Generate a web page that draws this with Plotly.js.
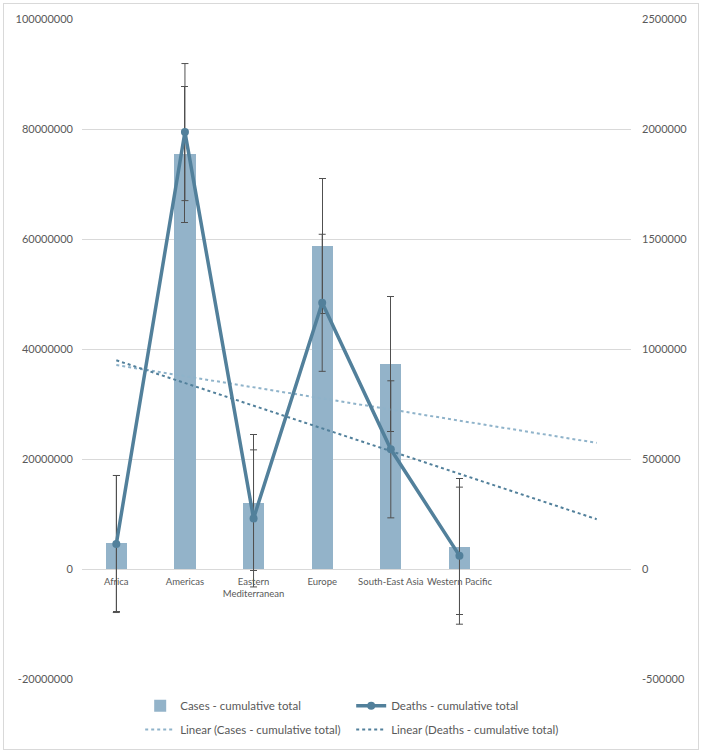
<!DOCTYPE html>
<html><head><meta charset="utf-8">
<script src="https://cdn.plot.ly/plotly-3.0.1.min.js"></script>
<style>
html,body{margin:0;padding:0;background:#fff}
#chart{position:absolute;left:0;top:0;width:701px;height:753px}
#frame{position:absolute;left:3px;top:3px;width:696px;height:747px;border:1px solid #d9d9d9;box-sizing:border-box;pointer-events:none}
</style>
</head><body><div id="chart"></div><div id="frame"></div>
<script>
// ---- data ----
const regions = ['Africa', 'Americas', 'Eastern<br>Mediterranean', 'Europe', 'South-East Asia', 'Western Pacific'];
const casesTotal = [4670000, 75400000, 12050000, 58700000, 37300000, 4050000];
const deathsTotal = [113600, 1986000, 230000, 1210000, 544000, 60600];
const leftTicks = [-20000000, 0, 20000000, 40000000, 60000000, 80000000, 100000000];
const rightTicks = [-500000, 0, 500000, 1000000, 1500000, 2000000, 2500000];
const forecastForward = 2;

// ---- helpers (Excel-style standard error & linear trendline) ----
const xIdx = regions.map((_, i) => i + 1);
function stdErr(v) {
  const n = v.length, m = v.reduce((a, b) => a + b, 0) / n;
  const sd = Math.sqrt(v.reduce((a, b) => a + (b - m) * (b - m), 0) / (n - 1));
  return sd / Math.sqrt(n);
}
function trend(v) {
  const n = v.length;
  const mx = xIdx.reduce((a, b) => a + b, 0) / n, my = v.reduce((a, b) => a + b, 0) / n;
  let sxy = 0, sxx = 0;
  for (let i = 0; i < n; i++) { sxy += (xIdx[i] - mx) * (v[i] - my); sxx += (xIdx[i] - mx) ** 2; }
  const b = sxy / sxx, a = my - b * mx;
  const xs = [1, n + forecastForward];
  return { x: xs, y: xs.map(x => a + b * x) };
}
const tC = trend(casesTotal), tD = trend(deathsTotal);

const barCol = '#93b3c9', lineCol = '#52809b', errCol = '#505050';
const font = { family: 'Lato, "Open Sans", sans-serif', color: '#595959' };

const traces = [
  { type: 'bar', name: 'Cases - cumulative total', x: xIdx, y: casesTotal, width: 0.31,
    marker: { color: barCol }, yaxis: 'y', hoverinfo: 'skip', legend: 'legend',
    error_y: { type: 'constant', value: stdErr(casesTotal), color: errCol, thickness: 1, width: 3.5 } },
  { type: 'scatter', mode: 'lines+markers', name: 'Deaths - cumulative total', x: xIdx, y: deathsTotal,
    yaxis: 'y2', line: { color: lineCol, width: 3.5 }, marker: { color: lineCol, size: 8 }, hoverinfo: 'skip', legend: 'legend',
    error_y: { type: 'constant', value: stdErr(deathsTotal), color: errCol, thickness: 1, width: 3.5 } },
  { type: 'scatter', mode: 'lines', name: 'Linear (Cases - cumulative total)', x: tC.x, y: tC.y, yaxis: 'y',
    line: { color: '#8fb3ca', width: 2, dash: 'dot' }, hoverinfo: 'skip', legend: 'legend2' },
  { type: 'scatter', mode: 'lines', name: 'Linear (Deaths - cumulative total)', x: tD.x, y: tD.y, yaxis: 'y2',
    line: { color: lineCol, width: 2, dash: 'dot' }, hoverinfo: 'skip', legend: 'legend2' }
];

const yMin = leftTicks[0], yMax = leftTicks[leftTicks.length - 1];
const legendBase = { orientation: 'h', x: 0.106, xanchor: 'left', yanchor: 'top',
  entrywidth: 166, font: { size: 11.5, color: '#595959' }, bgcolor: 'rgba(0,0,0,0)', itemwidth: 30 };
const layout = {
  width: 701, height: 753,
  margin: { l: 82, r: 70, t: 19, b: 74, autoexpand: false },
  paper_bgcolor: '#fff', plot_bgcolor: '#fff',
  font: font,
  showlegend: true,
  xaxis: { range: [0.5, regions.length + forecastForward + 0.5], tickvals: xIdx, ticktext: regions,
    anchor: 'free', position: (0 - yMin) / (yMax - yMin), showgrid: false, zeroline: false, showline: false,
    ticks: '', tickfont: { size: 9.5, color: '#595959' }, tickangle: 0, ticklabelstandoff: 5 },
  yaxis: { range: [yMin, yMax], tickvals: leftTicks, ticktext: leftTicks.map(String),
    showgrid: true, gridcolor: '#d9d9d9', gridwidth: 1, zeroline: true, zerolinecolor: '#d9d9d9', zerolinewidth: 1,
    showline: false, ticks: '', tickfont: { size: 11, color: '#595959' }, ticklabelstandoff: 8 },
  yaxis2: { range: [rightTicks[0], rightTicks[rightTicks.length - 1]], tickvals: rightTicks, ticktext: rightTicks.map(String),
    overlaying: 'y', side: 'right', showgrid: false, zeroline: false, showline: false, ticks: '',
    tickfont: { size: 11, color: '#595959' }, ticklabelstandoff: 10 },
  legend: Object.assign({}, legendBase, { y: -0.0185 }),
  legend2: Object.assign({}, legendBase, { y: -0.0545 }),
  bargap: 0
};

Plotly.newPlot('chart', traces, layout, { displayModeBar: false, staticPlot: true });
</script>
</body></html>
